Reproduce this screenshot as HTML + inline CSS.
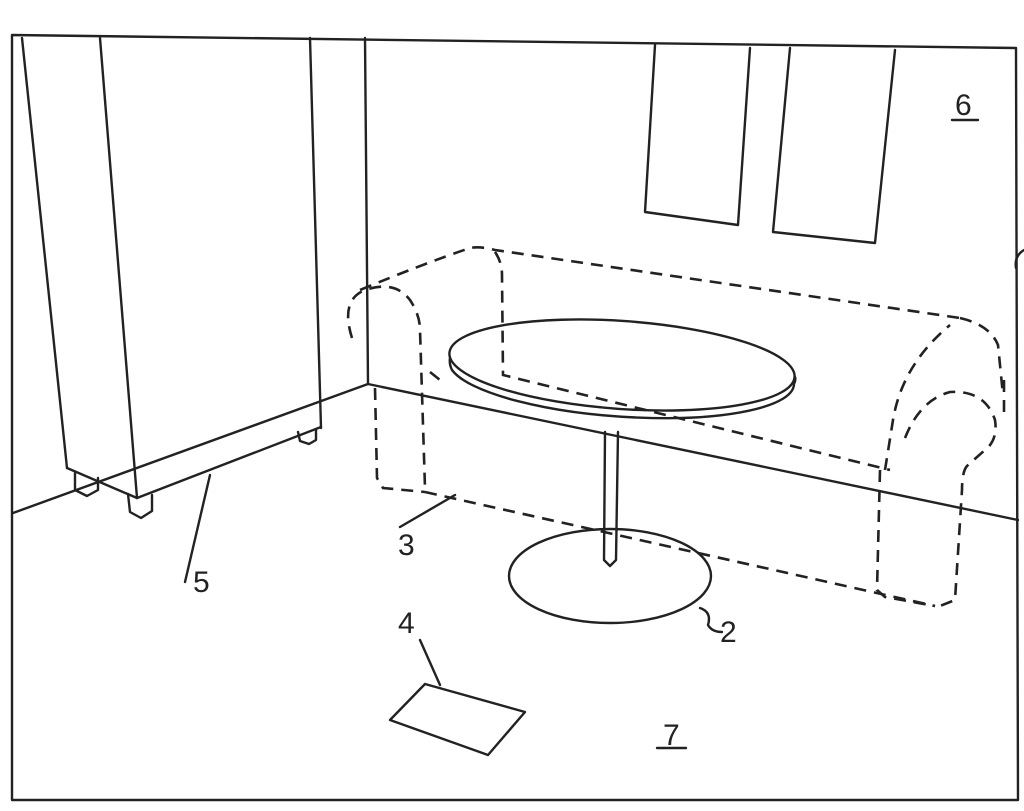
<!DOCTYPE html>
<html><head><meta charset="utf-8"><style>
html,body{margin:0;padding:0;background:#fff;}
svg{display:block;}
text{font-family:"Liberation Sans",sans-serif;font-size:30px;fill:#222;}
</style></head><body>
<svg width="1024" height="811" viewBox="0 0 1024 811" xmlns="http://www.w3.org/2000/svg">
<g fill="none" stroke="#222" stroke-width="2.4" stroke-linecap="round" stroke-linejoin="round">
<path d="M12,35 L1016,48 L1018,800 L12,800 Z"/>
<path d="M13,513 L368,384 L1018,520"/>
<path d="M365,38 L368,384"/>
<path d="M22,38 L67,468"/>
<path d="M100,38 L137,498"/>
<path d="M310,38 L321,428"/>
<path d="M67,468 L137,498"/>
<path d="M137,498 L321,427"/>
<path d="M75,473 L75,490 L87,496 L98,490 L98,478"/>
<path d="M128,494 L130,512 L141,518 L152,511 L152,495"/>
<path d="M298,432 L300,441 L309,444 L316,440 L316,430"/>
<path d="M655,45 L645,212 L738,225 L750,48"/>
<path d="M790,48 L773,232 L875,243 L895,50"/>
<path d="M1024,250 Q1014,256 1016,268"/>
<ellipse cx="622" cy="365" rx="173" ry="44" transform="rotate(4 622 365)"/>
<path d="M450,358 Q449,364 452,370 A173,44 4 0 0 794,384 Q796,380 795,377"/>
<path d="M605,432 L604,560 L610,566 L616,560 L618,432"/>
<ellipse cx="610" cy="576" rx="101" ry="47"/>
<path d="M400,527 L455,495"/>
<path d="M185,582 L210,475"/>
<path d="M420,640 L440,685"/>
<path d="M700,608 Q712,612 708,625 Q712,632 722,632"/>
<path d="M390,720 L425,684 L525,712 L488,755 Z"/>
<path d="M952,120 L978,120"/>
<path d="M657,748 L686,748"/>
</g>
<g fill="none" stroke="#222" stroke-width="2.6" stroke-dasharray="12,8" stroke-linecap="butt">
<path d="M360,290 Q420,265 470,248 Q480,246 495,250 L960,318"/>
<path d="M495,252 Q502,262 502,275 L503,375 L890,470"/>
<path d="M352,338 Q340,300 365,290 Q395,280 410,300 Q420,315 420,330 L425,488"/>
<path d="M375,388 L377,478 L383,488 L425,492"/>
<path d="M425,492 L935,606"/>
<path d="M430,372 L440,380"/>
<path d="M960,318 Q990,325 998,345 L1003,395"/>
<path d="M885,470 L893,420 Q902,365 950,325"/>
<path d="M905,438 Q920,400 950,392 Q985,390 995,420 Q998,440 985,450 L968,465 Q962,470 962,490 L955,600 L940,606"/>
<path d="M880,470 L877,590 L885,597 L935,606"/>
<path d="M1004,380 L1004,420"/>
</g>
<text x="955" y="115">6</text>
<text x="398" y="555">3</text>
<text x="193" y="592">5</text>
<text x="398" y="633">4</text>
<text x="720" y="642">2</text>
<text x="663" y="745">7</text>
</svg>
</body></html>
